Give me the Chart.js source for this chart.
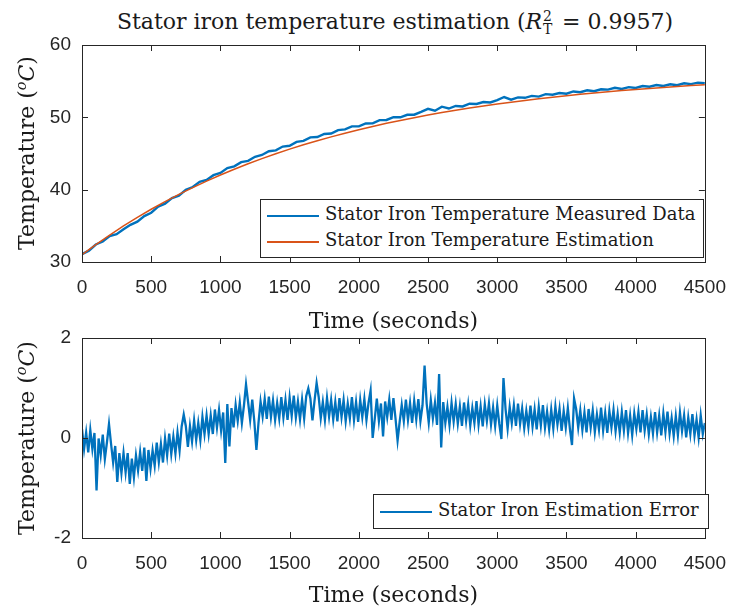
<!DOCTYPE html>
<html>
<head>
<meta charset="utf-8">
<script src="https://cdn.jsdelivr.net/npm/chart.js@4.4.1/dist/chart.umd.min.js"></script>
<style>
  body { margin: 0; background: #fff; }
  #wrap { position: relative; width: 740px; height: 607px; background: #fff; overflow: hidden; }
  .box { position: absolute; left: 0; }
  .serif { font-family: 'DejaVu Serif', 'Liberation Serif', serif; color: #1a1a1a; }
  #title { position: absolute; left: 0; width: 790px; top: 8px; text-align: center; font-size: 22px; line-height: 28px; white-space: nowrap; }
  .ss { position: relative; display: inline-block; width: 12px; height: 16px; margin-left: 1px; }
  .ss span { position: absolute; left: 0; font-size: 14px; line-height: 1; }
  .ss .up { top: -4px; }
  .ss .dn { top: 9px; }
  .ylab { position: absolute; left: 26px; font-size: 22px; white-space: nowrap; transform: translate(-50%, -50%) rotate(-90deg); }
  .ylab sup { font-size: 0.65em; }
  .legend { position: absolute; background: #fff; border: 1px solid #262626; font-size: 18px; box-sizing: border-box; }
  .item { position: absolute; left: 6px; height: 20px; white-space: nowrap; }
  .item .ln { position: absolute; left: 0; top: 10px; width: 52px; height: 1.5px; }
  .item .tx { position: absolute; left: 58px; top: -2px; }
</style>
</head>
<body>
<div id="wrap">
  <div id="title" class="serif">Stator iron temperature estimation (<i>R</i><span class="ss"><span class="up">2</span><span class="dn">T</span></span> = 0.9957)</div>
  <div class="box" style="top:0"><canvas id="topChart" width="740" height="336"></canvas></div>
  <div class="box" style="top:300px"><canvas id="bottomChart" width="740" height="310"></canvas></div>
  <div class="ylab serif" style="top:153px">Temperature (<sup><i>o</i></sup><i>C</i>)</div>
  <div class="ylab serif" style="top:438px">Temperature (<sup><i>o</i></sup><i>C</i>)</div>
  <div class="legend serif" style="left:260px;top:199px;width:444px;height:59px">
    <div class="item" style="top:5px"><span class="ln" style="background:#0072BD"></span><span class="tx">Stator Iron Temperature Measured Data</span></div>
    <div class="item" style="top:31px"><span class="ln" style="background:#D95319"></span><span class="tx">Stator Iron Temperature Estimation</span></div>
  </div>
  <div class="legend serif" style="left:373px;top:494px;width:336px;height:35px">
    <div class="item" style="top:6px"><span class="ln" style="background:#0072BD"></span><span class="tx">Stator Iron Estimation Error</span></div>
  </div>
</div>
<script>
// sampling intervals of the series (seconds)
const estStep = 100;
const measStep = 50;
const errStep = 15;

const xTicks = [0, 500, 1000, 1500, 2000, 2500, 3000, 3500, 4000, 4500];
const topYTicks = [30, 40, 50, 60];
const bottomYTicks = [-2, 0, 2];

// estimated stator iron temperature, every 100 s
const estimation = [
  31.00, 32.40, 33.73, 34.99, 36.17, 37.29, 38.35, 39.35, 40.29, 41.19,
  42.03, 42.83, 43.58, 44.29, 44.96, 45.60, 46.20, 46.77, 47.30, 47.81,
  48.29, 48.74, 49.17, 49.57, 49.95, 50.31, 50.66, 50.98, 51.28, 51.57,
  51.84, 52.10, 52.34, 52.57, 52.78, 52.99, 53.18, 53.37, 53.54, 53.70,
  53.86, 54.00, 54.14, 54.27, 54.39, 54.51
];

// measured stator iron temperature, every 50 s
const measured = [
  31.08, 31.57, 32.42, 32.83, 33.58, 33.85, 34.52, 35.14, 35.57, 36.35,
  36.81, 37.65, 38.07, 38.83, 39.17, 39.99, 40.37, 41.09, 41.35, 42.00,
  42.32, 42.99, 43.22, 43.81, 43.98, 44.54, 44.80, 45.32, 45.44, 45.96,
  46.07, 46.61, 46.74, 47.23, 47.28, 47.70, 47.76, 48.24, 48.34, 48.75,
  48.75, 49.15, 49.16, 49.62, 49.64, 50.03, 50.01, 50.35, 50.36, 50.75,
  51.18, 50.92, 51.47, 51.22, 51.57, 51.51, 51.88, 51.85, 52.12, 52.06,
  52.39, 52.81, 52.45, 52.76, 52.70, 52.97, 52.87, 53.21, 53.12, 53.36,
  53.27, 53.58, 53.47, 53.74, 53.61, 53.88, 53.83, 54.08, 53.93, 54.17,
  54.06, 54.33, 54.23, 54.47, 54.34, 54.57, 54.44, 54.71, 54.59, 54.80,
  54.72
];

// estimation error, every 15 s
const estError = [
  0.18, -0.22, 0.11, -0.29, 0.16, -0.22, 0.10, -1.05, -0.01, -0.34, 0.07, -0.42, -0.09, 0.28, -0.12, -0.49, -0.16, -0.88, -0.30, -0.70,
  -0.30, -0.69, -0.30, -0.92, -0.41, -0.79, -0.35, -0.65, -0.28, -0.66, -0.19, -0.86, -0.24, -0.61, -0.25, -0.55, -0.09, -0.48, -0.12, -0.49,
  -0.01, -0.35, 0.09, -0.32, 0.03, -0.31, 0.11, -0.25, 0.23, 0.47, 0.24, -0.18, 0.24, -0.07, 0.35, -0.04, 0.30, -0.04, 0.42, 0.08,
  0.45, 0.08, 0.45, 0.08, 0.57, 0.21, 0.56, 0.15, 0.51, -0.50, 0.68, -0.17, 0.60, 0.21, 0.66, 0.34, 0.71, 0.30, 0.65, 1.07,
  0.72, 0.36, 0.77, 0.33, -0.24, 0.30, 0.73, 0.43, 0.78, 0.38, 0.83, 0.42, 0.75, 0.36, 0.70, 0.39, 0.82, 0.41, 0.76, 0.36,
  0.81, 0.44, 0.85, 0.41, 0.73, 0.37, 0.77, 0.39, 0.84, 0.99, 0.79, 0.35, 0.75, 1.10, 0.82, 0.40, 0.72, 0.36, 0.80, 0.43,
  0.76, 0.37, 0.72, 0.33, 0.80, 0.42, 0.76, 0.34, 0.69, 0.39, 0.82, 0.36, 0.72, 0.32, 0.76, 0.42, 0.78, 0.36, 0.70, 0.95,
  0.00, 0.38, 0.79, 0.34, 0.69, 0.03, 0.73, 0.42, 0.77, 0.36, 0.80, 0.39, -0.05, 0.32, 0.66, 0.34, 0.77, 0.36, 0.70, 0.30,
  0.74, 0.37, 0.78, 0.34, 0.65, 1.45, 0.69, 0.31, 0.76, 0.39, 0.70, 0.26, 1.28, -0.19, 0.72, 0.30, 0.62, 0.26, 0.70, 0.33,
  0.68, 0.29, 0.63, 0.24, 0.71, 0.34, 0.67, 0.25, 0.60, 0.30, 0.74, 0.27, 0.63, 0.23, 0.67, 0.34, 0.69, 0.27, 0.61, 0.24,
  0.65, 0.28, -0.02, 1.20, 0.58, 0.19, 0.62, 0.30, 0.65, 0.24, 0.69, 0.28, 0.59, 0.20, 0.54, 0.22, 0.65, 0.23, 0.57, 0.17,
  0.62, 0.25, 0.66, 0.21, 0.53, 0.17, 0.57, 0.19, 0.63, 0.27, 0.58, 0.14, 0.54, 0.21, 0.60, 0.18, -0.14, 0.79, 0.58, 0.21,
  0.55, 0.16, 0.51, 0.11, 0.58, 0.21, 0.55, 0.12, 0.47, 0.17, 0.61, 0.15, 0.50, 0.10, 0.54, 0.21, 0.56, 0.14, 0.48, 0.11,
  0.52, 0.15, 0.56, 0.10, 0.45, 0.06, 0.49, 0.18, 0.52, 0.11, 0.56, 0.15, 0.47, 0.08, 0.42, 0.09, 0.52, 0.11, 0.45, 0.05,
  0.49, 0.12, 0.53, 0.09, 0.40, 0.04, 0.44, 0.06, 0.51, 0.14, 0.45, 0.01, 0.41, 0.08, 0.48, 0.05, 0.37, 0.01, 0.45, 0.08,
  0.30
];

const toPoints = (arr, step) => arr.map((v, i) => ({ x: i * step, y: v }));

const axisColor = '#262626';
const tickFont = { family: "'Liberation Sans', Arial, sans-serif", size: 19 };
const titleFont = { family: "'DejaVu Serif', 'Liberation Serif', serif", size: 22 };

// matlab style box with inward ticks
const matlabBox = {
  id: 'matlabBox',
  afterDraw(chart) {
    const { ctx, chartArea: a, scales } = chart;
    const len = 6;
    ctx.save();
    ctx.strokeStyle = axisColor;
    ctx.lineWidth = 1;
    ctx.beginPath();
    scales.x.ticks.forEach((t, i) => {
      const px = Math.round(scales.x.getPixelForTick(i)) + 0.5;
      ctx.moveTo(px, a.bottom); ctx.lineTo(px, a.bottom - len);
      ctx.moveTo(px, a.top); ctx.lineTo(px, a.top + len);
    });
    scales.y.ticks.forEach((t, i) => {
      const py = Math.round(scales.y.getPixelForTick(i)) + 0.5;
      ctx.moveTo(a.left, py); ctx.lineTo(a.left + len, py);
      ctx.moveTo(a.right, py); ctx.lineTo(a.right - len, py);
    });
    ctx.stroke();
    ctx.strokeRect(Math.round(a.left) + 0.5, Math.round(a.top) + 0.5, Math.round(a.width), Math.round(a.height));
    ctx.restore();
  }
};

function makeScales(yTicks, yMin, yMax, xHeight) {
  return {
    x: {
      type: 'linear', min: 0, max: 4500,
      afterBuildTicks: s => { s.ticks = xTicks.map(v => ({ value: v })); },
      afterFit: s => { s.height = xHeight; },
      grid: { display: false, drawTicks: false },
      border: { display: false },
      ticks: { color: axisColor, font: tickFont, padding: 14, maxRotation: 0, autoSkip: false, callback: v => String(v) },
      title: { display: true, text: 'Time (seconds)', color: '#1a1a1a', font: titleFont, padding: { top: 0, bottom: 1 } }
    },
    y: {
      type: 'linear', min: yMin, max: yMax,
      afterBuildTicks: s => { s.ticks = yTicks.map(v => ({ value: v })); },
      afterFit: s => { s.width = 82; },
      grid: { display: false, drawTicks: false },
      border: { display: false },
      ticks: { color: axisColor, font: tickFont, padding: 11, callback: v => String(v) }
    }
  };
}

const common = {
  responsive: false,
  animation: false,
  parsing: false,
  plugins: { legend: { display: false }, tooltip: { enabled: false } },
  elements: { point: { radius: 0 }, line: { tension: 0 } }
};

new Chart(document.getElementById('topChart'), {
  type: 'line',
  data: {
    datasets: [
      { label: 'Stator Iron Temperature Measured Data', data: toPoints(measured, measStep), borderColor: '#0072BD', borderWidth: 2.4, order: 2 },
      { label: 'Stator Iron Temperature Estimation', data: toPoints(estimation, estStep), borderColor: '#D95319', borderWidth: 1.5, order: 1 }
    ]
  },
  options: Object.assign({}, common, {
    layout: { padding: { left: 0, right: 28, top: 45, bottom: 0 } },
    scales: makeScales(topYTicks, 30, 60, 74)
  }),
  plugins: [matlabBox]
});

new Chart(document.getElementById('bottomChart'), {
  type: 'line',
  data: {
    datasets: [
      { label: 'Stator Iron Estimation Error', data: toPoints(estError, errStep), borderColor: '#0072BD', borderWidth: 2.3 }
    ]
  },
  options: Object.assign({}, common, {
    layout: { padding: { left: 0, right: 28, top: 38, bottom: 0 } },
    scales: makeScales(bottomYTicks, -2, 2, 72)
  }),
  plugins: [matlabBox]
});
</script>
</body>
</html>
